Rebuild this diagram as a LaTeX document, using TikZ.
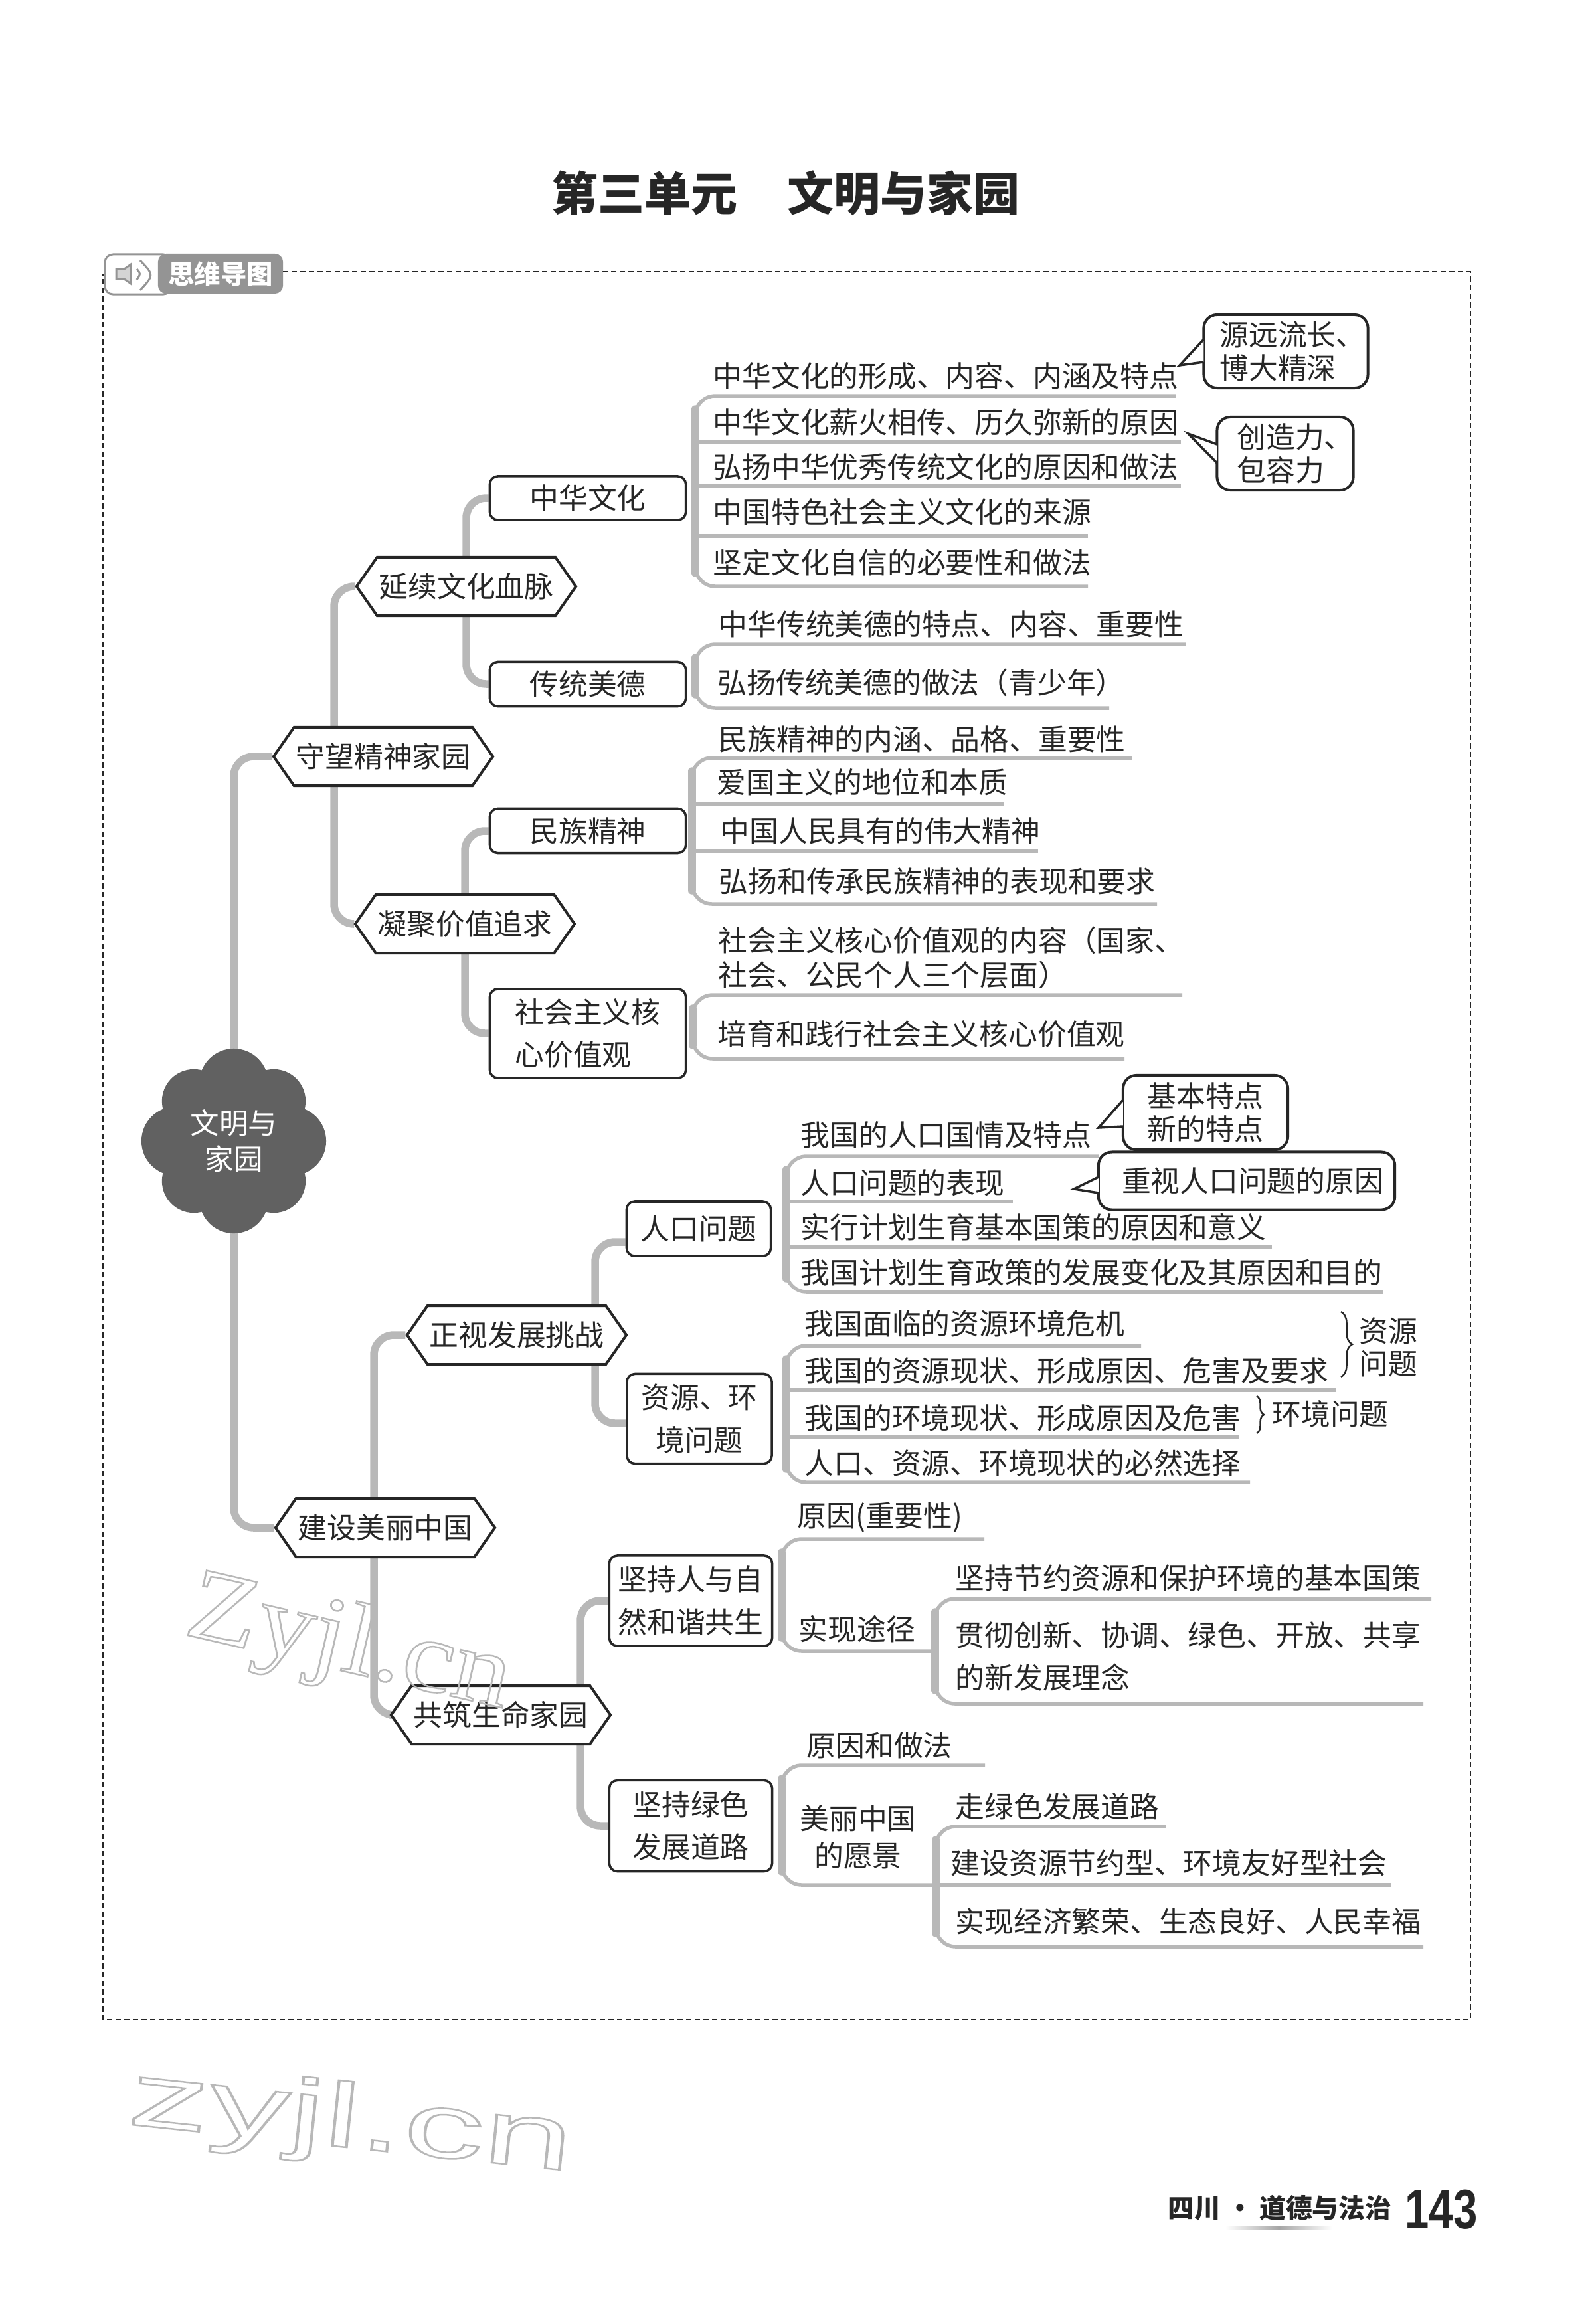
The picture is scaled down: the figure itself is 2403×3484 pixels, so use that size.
\documentclass[tikz,border=0pt]{standalone}
\usepackage{fontspec}
\setmainfont{Noto Sans CJK SC}
\newfontfamily\latinsans{Liberation Sans}
\newfontfamily\latinserif{Liberation Serif}
\usepackage{tikz}
\usetikzlibrary{shapes.symbols,calc,backgrounds,decorations.pathreplacing}
\definecolor{ink}{gray}{0.15}
\definecolor{branchgray}{gray}{0.72}
\definecolor{rootgray}{gray}{0.38}
\definecolor{taggray}{gray}{0.58}
\definecolor{markgray}{gray}{0.72}
\newcommand{\bodyfont}{\fontsize{12.45pt}{18.3pt}\selectfont}
\newcommand{\outlined}[1]{\special{pdf:code 1 Tr 0.7 w}#1\special{pdf:code 0 Tr 1 w}}
\newcommand{\branch}[3]{
\draw[rule,rounded corners=0.3cm] (#1) -- (#1 -| #3) -- (#2 -| #3) -- (#2);
\draw[stem,line cap=round,shorten >=0.2cm,shorten <=0.2cm] (#1 -| #3) -- (#2 -| #3);
}
\tikzset{
  stem/.style={draw=branchgray,line width=0.115cm},
  curve/.style={stem,rounded corners=0.3cm},
  rule/.style={draw=branchgray,line width=0.055cm},
  item/.style={anchor=west,inner sep=0pt,text=ink,font=\bodyfont,align=left},
  boxnode/.style={draw=ink,line width=0.035cm,rounded corners=0.12cm,fill=white,text=ink,font=\bodyfont,inner sep=0pt,align=center},
  hexnode/.style={shape=signal,signal to=east and west,signal pointer angle=110,draw=ink,line width=0.04cm,fill=white,text=ink,font=\bodyfont,minimum width=3.3cm,minimum height=0.88cm,inner sep=0pt},
  callbox/.style={boxnode,line width=0.04cm,rounded corners=0.2cm,font=\fontsize{12.45pt}{14.3pt}\selectfont},
  pointer/.style={draw=ink,line width=0.035cm,fill=white},
  curly/.style={draw=ink,line width=0.025cm,decorate},
  framedash/.style={draw=ink,line width=0.025cm,dash pattern=on 0.08cm off 0.05cm}
}
\begin{document}
\begin{tikzpicture}[x=0.01cm,y=-0.01cm]
\useasboundingbox (0,0) rectangle (2403,3484);
\node[font=\fontsize{19.9pt}{24pt}\selectfont\bfseries,text=ink] (title) at (1183,291) {第三单元\hspace{0.75cm}文明与家园};

\node[draw=taggray,line width=0.03cm,rounded corners=0.12cm,minimum width=1.0cm,minimum height=0.6cm] (speak) at (208,413) {};
\node[fill=taggray,rounded corners=0.12cm,text=white,minimum width=1.88cm,minimum height=0.6cm,inner sep=0pt,font=\fontsize{11.2pt}{12pt}\selectfont\bfseries] (tag) at (332,412) {思维导图};
\draw[draw=taggray,fill=taggray!40,line width=0.03cm] (175,405) -- (187,405) -- (197,398) -- (197,427) -- (187,420) -- (175,420) -- cycle;
\draw[draw=taggray,line width=0.03cm] (206,405) .. controls (212,412) .. (206,421);
\draw[draw=taggray,line width=0.03cm] (211,392) .. controls (232,414) .. (211,437);
\coordinate (frtl) at (426,409);
\coordinate (frbr) at (2214,3041);
\coordinate (frbl) at (155,3041);
\draw[framedash] (frtl) -| (frbr) -- (frbl) -- (frbl |- speak.west);

\coordinate (rootc) at (352,1718);
\foreach \a in {0,90,180,270} \fill[rootgray] ([shift={(\a:0.87cm)}]rootc) circle[radius=0.52cm];
\foreach \a in {45,135,225,315} \fill[rootgray] ([shift={(\a:0.85cm)}]rootc) circle[radius=0.48cm];
\node[circle,fill=rootgray,minimum size=1.9cm,inner sep=0pt,text=white,align=center,font=\fontsize{12.4pt}{15.3pt}\selectfont] (root) at (rootc) {文明与\\家园};

\node[hexnode] (jing) at (577,1139) {守望精神家园};
\node[hexnode] (xuwen) at (702,883) {延续文化血脉};
\node[hexnode] (ningju) at (700,1391) {凝聚价值追求};
\node[hexnode] (jianshe) at (580,2300) {建设美丽中国};
\node[hexnode] (zhengshi) at (778,2010) {正视发展挑战};
\node[hexnode] (gongzhu) at (754,2582) {共筑生命家园};

\node[boxnode,minimum width=2.95cm,minimum height=0.66cm] (zhonghua) at (885,750) {中华文化};
\node[boxnode,minimum width=2.95cm,minimum height=0.67cm] (meide) at (885,1030) {传统美德};
\node[boxnode,minimum width=2.95cm,minimum height=0.67cm] (minzu) at (885,1251) {民族精神};
\node[boxnode,align=left,minimum width=2.95cm,minimum height=1.34cm] (hexin) at (885,1556) {社会主义核\\心价值观};
\node[boxnode,minimum width=2.17cm,minimum height=0.82cm] (renkou) at (1052,1850) {人口问题};
\node[boxnode,minimum width=2.18cm,minimum height=1.35cm] (ziyuan) at (1053,2136) {资源、环\\境问题};
\node[boxnode,minimum width=2.45cm,minimum height=1.36cm] (ziran) at (1040,2410) {坚持人与自\\然和谐共生};
\node[boxnode,minimum width=2.45cm,minimum height=1.37cm] (lvse) at (1040,2749) {坚持绿色\\发展道路};

\node[item] (a1) at (1073,566) {中华文化的形成、内容、内涵及特点}; \coordinate (a1r) at (1770,596);
\node[item] (a2) at (1073,636) {中华文化薪火相传、历久弥新的原因}; \coordinate (a2r) at (1778,665);
\node[item] (a3) at (1073,703) {弘扬中华优秀传统文化的原因和做法}; \coordinate (a3r) at (1778,732);
\node[item] (a4) at (1073,771) {中国特色社会主义文化的来源}; \coordinate (a4r) at (1638,807);
\node[item] (a5) at (1073,847) {坚定文化自信的必要性和做法}; \coordinate (a5r) at (1638,883);

\node[item] (b1) at (1081,940) {中华传统美德的特点、内容、重要性}; \coordinate (b1r) at (1785,970);
\node[item] (b2) at (1080,1028) {弘扬传统美德的做法（青少年）}; \coordinate (b2r) at (1670,1066);

\node[item] (c1) at (1081,1113) {民族精神的内涵、品格、重要性}; \coordinate (c1r) at (1704,1141);
\node[item] (c2) at (1079,1178) {爱国主义的地位和本质}; \coordinate (c2r) at (1512,1211);
\node[item] (c3) at (1084,1251) {中国人民具有的伟大精神}; \coordinate (c3r) at (1563,1281);
\node[item] (c4) at (1082,1327) {弘扬和传承民族精神的表现和要求}; \coordinate (c4r) at (1742,1361);

\node[item,font=\fontsize{12.45pt}{14.8pt}\selectfont] (d1) at (1081,1442) {社会主义核心价值观的内容（国家、\\社会、公民个人三个层面）}; \coordinate (d1r) at (1780,1498);
\node[item] (d2) at (1080,1557) {培育和践行社会主义核心价值观}; \coordinate (d2r) at (1693,1594);

\node[item] (e1) at (1205,1709) {我国的人口国情及特点}; \coordinate (e1r) at (1654,1741);
\node[item] (e2) at (1205,1781) {人口问题的表现}; \coordinate (e2r) at (1525,1809);
\node[item] (e3) at (1205,1848) {实行计划生育基本国策的原因和意义}; \coordinate (e3r) at (1915,1877);
\node[item] (e4) at (1205,1916) {我国计划生育政策的发展变化及其原因和目的}; \coordinate (e4r) at (2082,1945);

\node[item] (f1) at (1211,1993) {我国面临的资源环境危机}; \coordinate (f1r) at (1718,2026);
\node[item] (f2) at (1211,2064) {我国的资源现状、形成原因、危害及要求}; \coordinate (f2r) at (2012,2093);
\node[item] (f3) at (1211,2135) {我国的环境现状、形成原因及危害}; \coordinate (f3r) at (1865,2163);
\node[item] (f4) at (1211,2203) {人口、资源、环境现状的必然选择}; \coordinate (f4r) at (1882,2232);

\node[item] (g1) at (1200,2284) {原因(重要性)}; \coordinate (g1r) at (1482,2317);
\node[item] (g2) at (1202,2453) {实现途径}; \coordinate (g2r) at (1408,2486);
\node[item] (h1) at (1438,2376) {坚持节约资源和保护环境的基本国策}; \coordinate (h1r) at (2155,2407);
\node[item] (h2) at (1438,2494) {贯彻创新、协调、绿色、开放、共享\\的新发展理念}; \coordinate (h2r) at (2143,2565);

\node[item] (i1) at (1214,2628) {原因和做法}; \coordinate (i1r) at (1483,2658);
\node[item,anchor=center,align=center,font=\fontsize{12.45pt}{15.8pt}\selectfont] (i2) at (1292,2766) {美丽中国\\的愿景}; \coordinate (i2r) at (1409,2838);
\node[item] (j1) at (1438,2720) {走绿色发展道路}; \coordinate (j1r) at (1755,2750);
\node[item] (j2) at (1431,2805) {建设资源节约型、环境友好型社会}; \coordinate (j2r) at (2094,2838);
\node[item] (j3) at (1438,2893) {实现经济繁荣、生态良好、人民幸福}; \coordinate (j3r) at (2143,2931);

\coordinate (tj) at (503,1139);
\coordinate (tq) at (563,2300);
\coordinate (tz) at (896,2010);
\coordinate (tg) at (874,2582);
\coordinate (ta) at (1047,700);
\coordinate (tb) at (1047,1000);
\coordinate (tc) at (1042,1250);
\coordinate (td) at (1043,1550);
\coordinate (te) at (1184,1850);
\coordinate (tf) at (1184,2130);
\coordinate (tk) at (1177,2400);
\coordinate (th) at (1408,2480);
\coordinate (ti) at (1177,2750);
\coordinate (tl) at (1409,2840);

\begin{scope}[on background layer]
\draw[curve] (jing.west) -| (root);
\draw[curve] (jianshe.west) -| (root);
\draw[curve] (xuwen.west) -| (tj);
\draw[curve] (ningju.west) -| (tj);
\draw[curve] (zhengshi.west) -| (tq);
\draw[curve] (gongzhu.west) -| (tq);
\draw[curve] (zhonghua.west) -| (xuwen);
\draw[curve] (meide.west) -| (xuwen);
\draw[curve] (minzu.west) -| (ningju);
\draw[curve] (hexin.west) -| (ningju);
\draw[curve] ([shift={(0,20)}]renkou.west) -| (tz);
\draw[curve] ([shift={(0,7)}]ziyuan.west) -| (tz);
\draw[curve] (ziran.west) -| (tg);
\draw[curve] (lvse.west) -| (tg);
\branch{a1r}{a5r}{ta}
\foreach \r in {a2r,a3r,a4r} \draw[rule] (\r) -- (\r -| ta);
\branch{b1r}{b2r}{tb}
\branch{c1r}{c4r}{tc}
\foreach \r in {c2r,c3r} \draw[rule] (\r) -- (\r -| tc);
\branch{d1r}{d2r}{td}
\branch{e1r}{e4r}{te}
\foreach \r in {e2r,e3r} \draw[rule] (\r) -- (\r -| te);
\branch{f1r}{f4r}{tf}
\foreach \r in {f2r,f3r} \draw[rule] (\r) -- (\r -| tf);
\branch{g1r}{g2r}{tk}
\branch{h1r}{h2r}{th}
\branch{i1r}{i2r}{ti}
\branch{j1r}{j3r}{tl}
\draw[rule] (j2r) -- (j2r -| tl);
\end{scope}

\node[callbox,align=left,minimum width=2.47cm,minimum height=1.10cm] (yuan) at (1936,529) {\hspace*{0.2cm}源远流长、\\\hspace*{0.2cm}博大精深};
\node[callbox,align=left,minimum width=2.01cm,minimum height=1.10cm] (chuang) at (1935,683) {\hspace*{0.3cm}创造力、\\\hspace*{0.3cm}包容力};
\node[callbox,minimum width=2.48cm,minimum height=1.12cm] (tedian) at (1815,1675) {基本特点\\新的特点};
\node[callbox,align=left,minimum width=4.46cm,minimum height=0.87cm] (zhongshi) at (1877,1778) {\hspace*{0.18cm}重视人口问题的原因};
\coordinate (yuant) at (1776,550);
\coordinate (chuangt) at (1789,653);
\coordinate (tediant) at (1654,1698);
\coordinate (zhongshit) at (1617,1790);
\draw[pointer] ([shift={(2,-18)}]yuan.west) -- (yuant) -- ([shift={(2,16)}]yuan.west);
\draw[pointer] ([shift={(2,-14)}]chuang.west) -- (chuangt) -- ([shift={(2,14)}]chuang.west);
\draw[pointer] ([shift={(2,-19)}]tedian.west) -- (tediant) -- ([shift={(2,21)}]tedian.west);
\draw[pointer] ([shift={(2,-6)}]zhongshi.west) -- (zhongshit) -- ([shift={(2,18)}]zhongshi.west);

\coordinate (brza) at (2019,1975);
\coordinate (brzb) at (2019,2073);
\coordinate (brha) at (1892,2102);
\coordinate (brhb) at (1892,2158);
\draw[curly,decoration={brace,amplitude=0.17cm}] (brza) -- (brzb);
\draw[curly,decoration={brace,amplitude=0.11cm}] (brha) -- (brhb);
\node[item,anchor=center,align=center,font=\fontsize{12.45pt}{13.9pt}\selectfont] (wenti) at (2090,2028) {资源\\问题};
\node[item,anchor=center] (huanjing) at (2003,2129) {环境问题};

\node[text=markgray,rotate=-13,xscale=1.12,transform shape,font=\latinserif\fontsize{44pt}{50pt}\selectfont] (markone) at (525,2480) {\outlined{Zyjl.cn}};
\node[text=markgray,rotate=-6,xscale=1.76,transform shape,font=\latinsans\fontsize{39pt}{48pt}\selectfont] (marktwo) at (528,3198) {\outlined{zyjl.cn}};

\node[text=ink,font=\fontsize{11.3pt}{14pt}\selectfont\bfseries] (foot) at (1927,3324) {四川 · 道德与法治};
\node[text=ink,xscale=0.78,transform shape,font=\latinsans\bfseries\fontsize{23.8pt}{28pt}\selectfont] (page) at (2170,3327) {143};
\shade[left color=white,right color=white,middle color=gray!70] (1845,3351) rectangle (2006,3357);
\end{tikzpicture}
\end{document}
